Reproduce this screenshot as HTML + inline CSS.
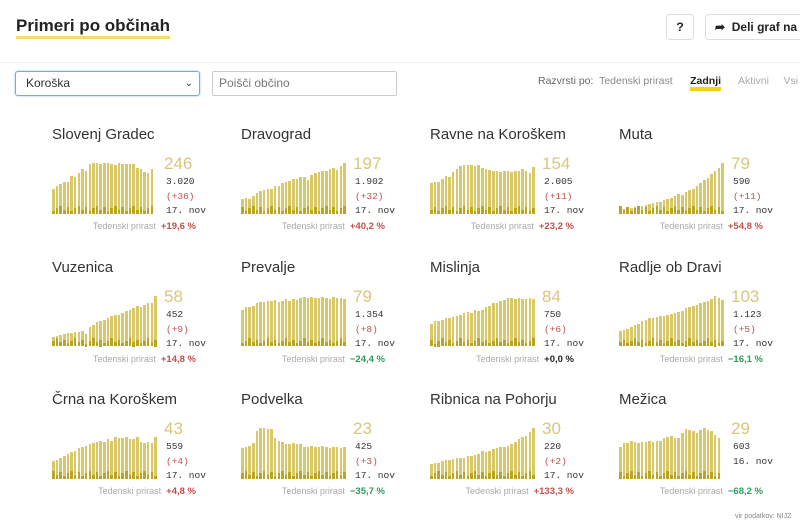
<!DOCTYPE html>
<html><head><meta charset="utf-8">
<style>
*{margin:0;padding:0;box-sizing:border-box}
body{width:800px;height:531px;background:#fff;font-family:"Liberation Sans",sans-serif;position:relative;overflow:hidden;color:#333}
.a{position:absolute;white-space:nowrap}
h1{position:absolute;left:16px;top:16px;font-size:17px;font-weight:bold;color:#222;border-bottom:3px solid #f3dd6a;line-height:20px;padding-bottom:0}
.btn{position:absolute;border:1px solid #ddd;border-radius:4px;background:#fff;font-weight:bold;font-size:12px;color:#222;white-space:nowrap;overflow:hidden}
.t{font-size:15px;color:#333}
.big{font-size:17px;color:#d9c67e}
.s{font-size:9.5px;font-family:"Liberation Mono",monospace;color:#333}
.r{color:#c0504d}
.g{color:#2a9d58}
.td{font-size:9px;color:#aaa}
.bar{position:absolute;width:2.6px;background:#d8c867}
.bd{position:absolute;width:2.6px;background:#b9a424;bottom:0}
</style></head><body>
<h1>Primeri po občinah</h1>
<div class="btn" style="left:666px;top:14px;width:28px;height:26px;text-align:center;line-height:24px">?</div>
<div class="btn" style="left:705px;top:14px;width:100px;height:26px;line-height:24px;padding-left:9px">➦&nbsp; Deli graf na</div>
<div class="a" style="left:0;top:62px;width:800px;height:1px;background:#eee"></div>
<div class="a" style="left:15px;top:71px;width:185px;height:25px;border:1px solid #7aa7e0;border-radius:3px;box-shadow:0 0 2px #9cc0f0;font-size:12px;line-height:23px;padding-left:10px;color:#333">Koroška<span style="position:absolute;right:6px;font-size:10px">⌄</span></div>
<div class="a" style="left:212px;top:71px;width:185px;height:25px;border:1px solid #ccc;border-radius:2px;font-size:12px;line-height:23px;padding-left:6px;color:#777">Poišči občino</div>
<div class="a" style="left:538px;top:75px;font-size:10.5px;color:#666">Razvrsti po:&nbsp; <span style="color:#888">Tedenski prirast</span>&nbsp;&nbsp;&nbsp;&nbsp;&nbsp; <b style="color:#222;border-bottom:4px solid #f7cf1d">Zadnji</b>&nbsp;&nbsp;&nbsp;&nbsp;&nbsp; <span style="color:#aaa">Aktivni</span>&nbsp;&nbsp;&nbsp;&nbsp; <span style="color:#aaa">Vsi</span></div>
<div class="a" style="left:735px;top:513px;font-size:7px;color:#888">vir podatkov: NIJZ</div>
<div id="c"></div>
<script>
var D=[
["Slovenj Gradec","246","3.020","(+36)","17. nov","+19,6 %","r",[.5,.55,.58,.62,.62,.75,.72,.8,.88,.85,.98,1,1,.98,1,1,.98,.96,1,.98,.98,.98,.98,.9,.88,.82,.8,.88]],
["Dravograd","197","1.902","(+32)","17. nov","+40,2 %","r",[.3,.31,.29,.35,.42,.46,.48,.5,.5,.55,.55,.6,.62,.65,.68,.68,.72,.72,.66,.76,.8,.82,.85,.85,.88,.9,.86,.95,1]],
["Ravne na Koroškem","154","2.005","(+11)","17. nov","+23,2 %","r",[.6,.62,.62,.68,.75,.72,.82,.88,.95,.97,.97,.96,.95,.97,.9,.88,.86,.85,.85,.82,.85,.85,.82,.85,.85,.88,.85,.8,.92]],
["Muta","79","590","(+11)","17. nov","+54,8 %","r",[.1,.1,.12,.12,.14,.14,.16,.18,.2,.22,.24,.24,.28,.3,.32,.36,.4,.38,.44,.48,.5,.55,.6,.66,.7,.78,.85,.9,1]],
["Vuzenica","58","452","(+9)","17. nov","+14,8 %","r",[.18,.2,.22,.24,.26,.27,.28,.28,.3,.25,.38,.42,.48,.5,.52,.55,.6,.62,.62,.66,.7,.72,.75,.8,.78,.82,.85,.86,1]],
["Prevalje","79","1.354","(+8)","17. nov","\u221224,4 %","g",[.72,.78,.78,.8,.85,.88,.88,.9,.9,.92,.88,.9,.94,.9,.94,.92,.95,.98,.95,.98,.95,.95,.98,.96,.94,.98,.96,.96,.94]],
["Mislinja","84","750","(+6)","17. nov","+0,0 %","",[.45,.5,.5,.52,.55,.55,.58,.6,.62,.65,.68,.65,.72,.7,.72,.78,.8,.85,.86,.9,.92,.95,.95,.94,.95,.94,.94,.95,.94]],
["Radlje ob Dravi","103","1.123","(+5)","17. nov","\u221216,1 %","g",[.3,.32,.35,.38,.42,.45,.5,.52,.55,.55,.58,.6,.6,.62,.64,.66,.68,.7,.75,.78,.8,.82,.85,.88,.9,.94,1,.96,.92]],
["Črna na Koroškem","43","559","(+4)","17. nov","+4,8 %","r",[.35,.38,.42,.45,.5,.52,.55,.6,.62,.65,.68,.7,.72,.75,.72,.78,.75,.82,.8,.8,.82,.78,.78,.82,.72,.7,.72,.7,.82]],
["Podvelka","23","425","(+3)","17. nov","\u221235,7 %","g",[.6,.62,.65,.7,.95,1,1,.98,.98,.8,.75,.72,.68,.68,.7,.68,.68,.62,.62,.65,.62,.62,.64,.62,.6,.62,.62,.6,.62]],
["Ribnica na Pohorju","30","220","(+2)","17. nov","+133,3 %","r",[.3,.32,.32,.35,.38,.38,.4,.42,.42,.42,.45,.45,.48,.5,.55,.52,.55,.58,.6,.62,.62,.65,.68,.72,.78,.82,.85,.92,1]],
["Mežica","29","603","","16. nov","\u221268,2 %","g",[.62,.7,.7,.74,.72,.7,.72,.72,.74,.72,.75,.75,.8,.82,.85,.8,.8,.9,.98,.97,.95,.9,.96,1,.96,.94,.86,.8]]
];
var h="";
D.forEach(function(d,i){
 var col=i%4,row=Math.floor(i/4);
 var x=52+col*189,y=row*132.5;
 h+='<div class="a t" style="left:'+x+'px;top:'+(y+126)+'px">'+d[0]+'</div>';
 var bottom=y+214,H=51;
 d[7].forEach(function(v,k){
  var bx=x+k*3.65,bh=v*H;
  var dk=(3+((k*7+i*3)%5)*1.3);
  h+='<div class="bar" style="left:'+bx+'px;top:'+(bottom-bh)+'px;height:'+bh+'px"><div class="bd" style="height:'+dk+'px"></div></div>';
 });
 h+='<div class="a big" style="left:'+(x+112)+'px;top:'+(y+154)+'px">'+d[1]+'</div>';
 h+='<div class="a s" style="left:'+(x+114)+'px;top:'+(y+176)+'px">'+d[2]+'</div>';
 if(d[3]){
  h+='<div class="a s r" style="left:'+(x+114)+'px;top:'+(y+191)+'px">'+d[3]+'</div>';
  h+='<div class="a s" style="left:'+(x+114)+'px;top:'+(y+205)+'px">'+d[4]+'</div>';
 } else {
  h+='<div class="a s" style="left:'+(x+114)+'px;top:'+(y+191)+'px">'+d[4]+'</div>';
 }
 h+='<div class="a td" style="right:'+(800-(x+144))+'px;top:'+(y+221)+'px;text-align:right">Tedenski prirast &nbsp;<b class="'+d[6]+'" style="font-size:9.5px'+(d[6]?'':';color:#222')+'">'+d[5]+'</b></div>';
});
document.getElementById("c").innerHTML=h;
</script>
</body></html>
